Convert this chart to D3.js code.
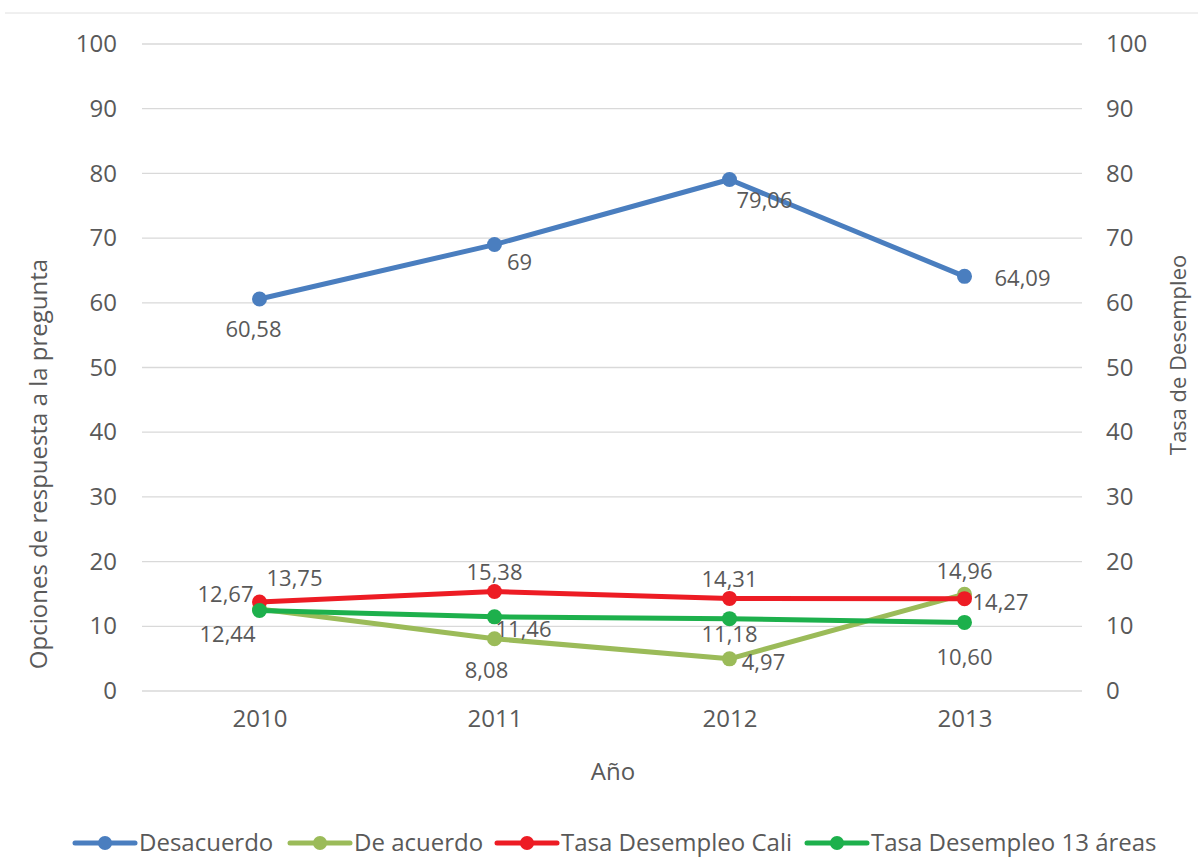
<!DOCTYPE html>
<html><head><meta charset="utf-8">
<script src="https://cdn.jsdelivr.net/npm/d3@7"></script>
<style>body{margin:0;background:#fff}svg{display:block}text{font-family:"Open Sans",sans-serif;fill:#595959}</style>
</head><body>
<script>
const years = ["2010","2011","2012","2013"];
const desacuerdo = [60.58, 69, 79.06, 64.09];
const deAcuerdo = [12.67, 8.08, 4.97, 14.96];
const tasaCali = [13.75, 15.38, 14.31, 14.27];
const tasa13 = [12.44, 11.46, 11.18, 10.60];
const yTicks = [0,10,20,30,40,50,60,70,80,90,100];
const seriesNames = ["Desacuerdo","De acuerdo","Tasa Desempleo Cali","Tasa Desempleo 13 áreas"];
const colors = ["#4A7EBF","#9BBB59","#ED1C24","#1DB04C"];
const labelTexts = [
  ["60,58","69","79,06","64,09"],
  ["12,67","8,08","4,97","14,96"],
  ["13,75","15,38","14,31","14,27"],
  ["12,44","11,46","11,18","10,60"]
];
// label offsets (dx, dy) relative to the point, layout only
const labelOffsets = [
  [[-6,30],[25,18],[35,21],[58,2]],
  [[-34,-15],[-8,32],[34,3],[0,-23]],
  [[35,-24],[0,-19],[0,-19],[36,4]],
  [[-32,24],[29,12],[0,16],[0,35]]
];
const series = [desacuerdo, deAcuerdo, tasaCali, tasa13];

const W=1198,H=858;
const svg=d3.select("body").append("svg").attr("width",W).attr("height",H);
const x=d3.scalePoint().domain(years).range([142,1082]).padding(0.5);
const y=d3.scaleLinear().domain([0,100]).range([691,44]);
const y2=d3.scaleLinear().domain([0,100]).range([691,44]);

svg.append("line").attr("x1",5).attr("x2",W).attr("y1",13).attr("y2",13).attr("stroke","#e0e0e0").attr("stroke-width",1);

// grid
svg.append("g").selectAll("line").data(yTicks).join("line")
  .attr("x1",142).attr("x2",1082).attr("y1",d=>y(d)).attr("y2",d=>y(d))
  .attr("stroke","#d9d9d9").attr("stroke-width",1.3);

const la=svg.append("g").attr("transform","translate(117,0)").call(d3.axisLeft(y).tickValues(yTicks).tickSize(0).tickPadding(0));
la.select(".domain").remove();
la.selectAll("text").style("font-size","24px").attr("fill","#595959");
const ra=svg.append("g").attr("transform","translate(1106,0)").call(d3.axisRight(y2).tickValues(yTicks).tickSize(0).tickPadding(0));
ra.select(".domain").remove();
ra.selectAll("text").style("font-size","24px").attr("fill","#595959");
const ba=svg.append("g").attr("transform","translate(0,710)").call(d3.axisBottom(x).tickSize(0).tickPadding(0));
ba.select(".domain").remove();
ba.selectAll("text").style("font-size","24px").attr("fill","#595959").attr("dy","0.7em");

svg.append("text").attr("x",613).attr("y",780).attr("text-anchor","middle").style("font-size","24px").text("Año");
svg.append("text").attr("transform","translate(47,464) rotate(-90)").attr("text-anchor","middle").style("font-size","24px").text("Opciones de respuesta a la pregunta");
svg.append("text").attr("transform","translate(1186,355) rotate(-90)").attr("text-anchor","middle").style("font-size","22px").text("Tasa de Desempleo");

series.forEach((s,k)=>{
  const sc = k>=2 ? y2 : y;
  const ln=d3.line().x((d,i)=>x(years[i])).y(d=>sc(d));
  svg.append("path").datum(s).attr("d",ln).attr("fill","none").attr("stroke",colors[k]).attr("stroke-width",5).attr("stroke-linejoin","round");
  svg.append("g").selectAll("circle").data(s).join("circle")
    .attr("cx",(d,i)=>x(years[i])).attr("cy",d=>sc(d)).attr("r",7.5).attr("fill",colors[k]);
});
series.forEach((s,k)=>{
  const sc = k>=2 ? y2 : y;
  svg.append("g").selectAll("text").data(s).join("text")
    .attr("x",(d,i)=>x(years[i])+labelOffsets[k][i][0])
    .attr("y",(d,i)=>sc(d)+labelOffsets[k][i][1])
    .attr("text-anchor","middle").attr("dy","0.35em")
    .style("font-size","22px").text((d,i)=>labelTexts[k][i]);
});

// legend
const lg=svg.append("g");
const legX=[75,290,497,807];
seriesNames.forEach((n,k)=>{
  const g=lg.append("g").attr("transform",`translate(${legX[k]},843)`);
  g.append("line").attr("x1",0).attr("x2",60).attr("y1",0).attr("y2",0).attr("stroke",colors[k]).attr("stroke-width",5).attr("stroke-linecap","round");
  g.append("circle").attr("cx",30).attr("cy",0).attr("r",7).attr("fill",colors[k]);
  g.append("text").attr("x",64).attr("y",0).attr("dy","0.35em").style("font-size","24px").text(n);
});
</script>
</body></html>
